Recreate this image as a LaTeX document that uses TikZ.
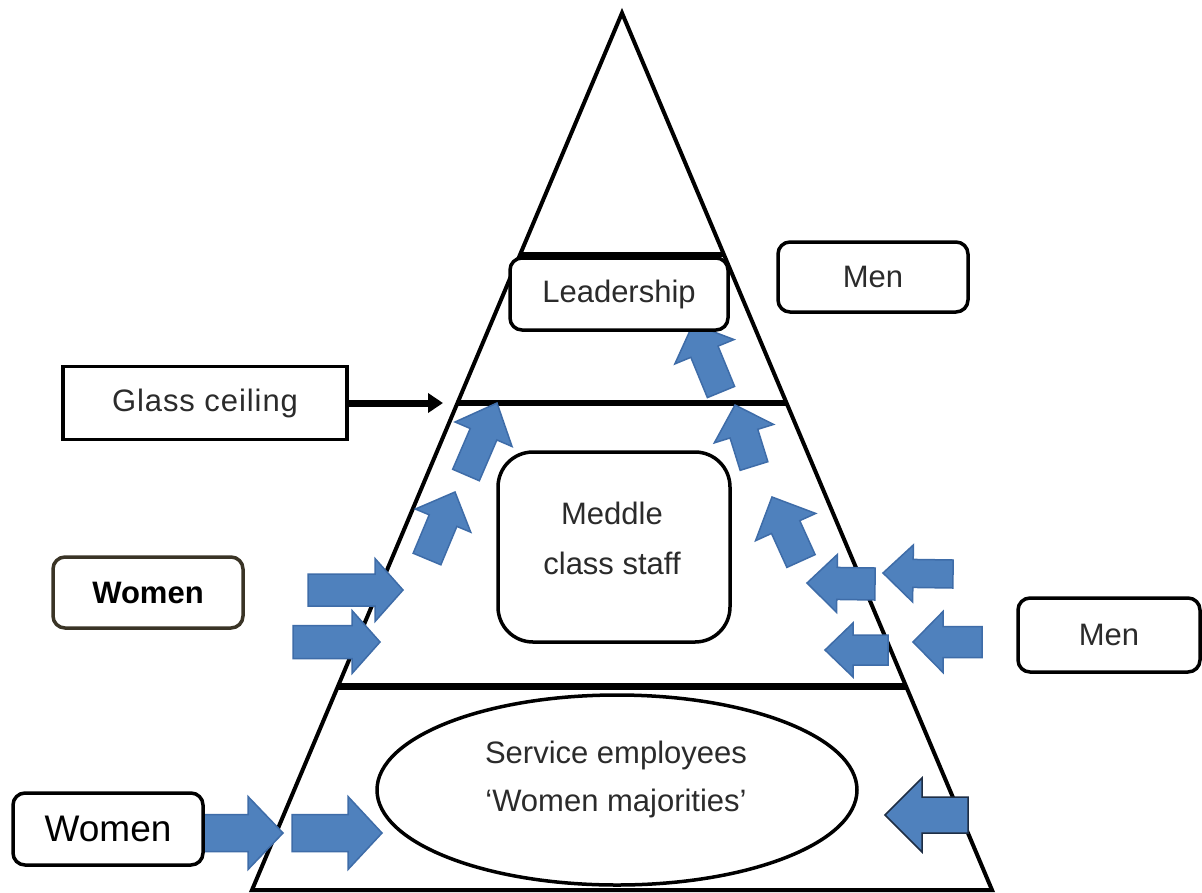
\documentclass[tikz,border=0pt]{standalone}
\usepackage{fontspec}
\setmainfont{Liberation Sans}
\newfontfamily\gcfont[LetterSpace=3]{Liberation Sans}
\usetikzlibrary{calc,arrows.meta,shapes.geometric}
\definecolor{arrfill}{HTML}{4F81BD}
\definecolor{arrline}{HTML}{3E6CA8}
\definecolor{arrdark}{HTML}{1E2E44}
\definecolor{txt}{HTML}{2B2B2B}
\definecolor{wbrd}{HTML}{3A3426}
% block arrow: [border colour] {base} {tip} {body half width} {head half width} {head length}
\newcommand{\barrow}[6][arrline]{%
  \coordinate (ab) at #2;
  \coordinate (at) at #3;
  \coordinate (an) at ($(at)!#6pt!(ab)$);
  \filldraw[arrowblk, draw=#1]
    ($(ab)!#4pt!90:(at)$) -- ($(an)!#4pt!90:(at)$) -- ($(an)!#5pt!90:(at)$) -- (at)
    -- ($(an)!#5pt!-90:(at)$) -- ($(an)!#4pt!-90:(at)$) -- ($(ab)!#4pt!-90:(at)$) -- cycle;
}
\begin{document}
\begin{tikzpicture}[x=1pt,y=-1pt,
  side/.style={line width=4pt, line join=miter},
  level/.style={line width=6pt},
  arrowblk/.style={fill=arrfill, line width=1.5pt, line join=miter},
  txtfont/.style={font=\fontsize{31}{36}\selectfont},
  rbox/.style={draw=black, line width=3.5pt, rounded corners=12pt, fill=white,
    text=txt, txtfont, align=center, inner sep=0pt},
  sbox/.style={draw=black, line width=3.5pt, fill=white, text=txt, txtfont,
    align=center, inner sep=0pt},
  plaintext/.style={text=txt, align=center, inner sep=0pt}]
\useasboundingbox (0,0) rectangle (1202,892);
\fill[white] (0,0) rectangle (1202,892);

% pyramid
\coordinate (apex) at (622,13);
\coordinate (bl) at (252,890);
\coordinate (br) at (992,890);
\draw[side] (apex) -- (br) -- (bl) -- cycle;
\draw[line width=5pt] ($(apex)!0.2759!(bl)$) -- ($(apex)!0.2759!(br)$);
\draw[level] ($(apex)!0.4447!(bl)$) -- ($(apex)!0.4447!(br)$);
\draw[line width=7pt] ($(apex)!0.7674!(bl)$) -- ($(apex)!0.7674!(br)$);

% blue arrows
\barrow{(203,833)}{(283,833)}{18.5}{36.5}{35}
\barrow{(292,833)}{(382,833)}{18.5}{36.5}{34}
\barrow[arrdark]{(968,815)}{(885,815)}{18}{37}{37}
\barrow{(308,590)}{(403,590)}{16}{31.5}{28}
\barrow{(293,642)}{(380,642)}{16.5}{31.5}{28}
\barrow{(427,559)}{(455,492)}{15}{30}{31}
\barrow{(466,475)}{(497,403)}{14.5}{31}{34}
\barrow{(754,466)}{(735,405)}{14.5}{31}{30}
\barrow{(801,561)}{(772,497)}{15.5}{33}{33}
\barrow{(875,584)}{(807,583)}{16}{29}{30}
\barrow{(953,574)}{(883,573)}{14}{28.5}{30}
\barrow{(888,650)}{(825,650)}{15}{27}{28}
\barrow{(982,642)}{(913,642)}{15.5}{30.5}{30}
\barrow{(721,392)}{(693,324)}{14.7}{32}{30}

% boxes
\node[rbox, minimum width=218pt, minimum height=72pt] (lead) at (619,294) {Leadership};
\node[rbox, minimum width=190pt, minimum height=70pt] (mentop) at (873,277) {Men};
\node[sbox, minimum width=284pt, minimum height=73pt] (gc) at (205,403) {\gcfont Glass ceiling};
\node[rbox, draw=wbrd, text=black, minimum width=190pt, minimum height=71pt,
  font=\fontsize{31}{36}\selectfont\bfseries] (womenmid) at (148,592.5) {Women};
\node[rbox, rounded corners=35pt, minimum width=232pt, minimum height=190pt] (mid) at (614,547) {};
\node[plaintext, font=\fontsize{31}{50}\selectfont] (midtxt) at (612,538) {Meddle\\class staff};
\node[ellipse, draw=black, line width=3.5pt, fill=white,
  inner sep=0pt, minimum width=480pt, minimum height=190pt] (serv) at (617,790) {};
\node[plaintext, font=\fontsize{31}{48}\selectfont] (servtxt) at (616,779) {Service employees\\‘Women majorities’};
\node[rbox, text=black, minimum width=190pt, minimum height=72pt,
  font=\fontsize{37}{42}\selectfont] (womenbot) at (108,829) {Women};
\node[rbox, minimum width=182pt, minimum height=74pt] (menright) at (1109,635) {Men};

% glass ceiling pointer
\coordinate (gctip) at (443,403);
\draw[line width=7pt, -{Triangle[length=15pt,width=19pt]}] (gc.east) -- (gctip);
\end{tikzpicture}
\end{document}
